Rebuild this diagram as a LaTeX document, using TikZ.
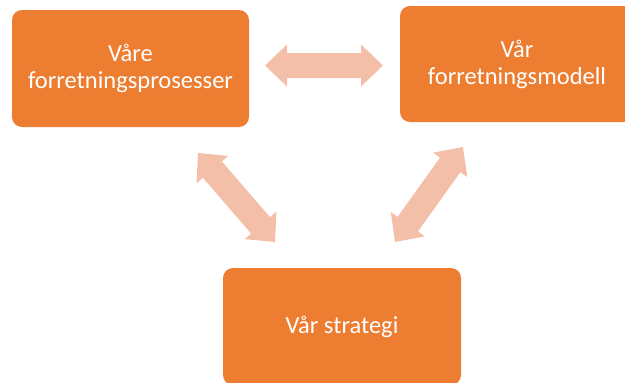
\documentclass[tikz,border=0pt]{standalone}
\usepackage{fontspec}
\setmainfont{Carlito}
\usetikzlibrary{calc}
\definecolor{boxorange}{HTML}{ED7D31}
\definecolor{linkpeach}{HTML}{F4BFA9}

% Double-headed block arrow between two named coordinates
\newcommand\twowayarrow[2]{%
  \coordinate (#1h) at ($(#1)!22pt!(#2)$);
  \coordinate (#2h) at ($(#2)!22pt!(#1)$);
  \fill[linkpeach]
    (#1) -- ($(#1h)!21pt!90:(#2)$) -- ($(#1h)!12.5pt!90:(#2)$)
         -- ($(#2h)!12.5pt!90:(#2)$) -- ($(#2h)!21pt!90:(#2)$)
    -- (#2) -- ($(#2h)!21pt!-90:(#2)$) -- ($(#2h)!12.5pt!-90:(#2)$)
         -- ($(#1h)!12.5pt!-90:(#2)$) -- ($(#1h)!21pt!-90:(#2)$)
    -- cycle;
}

\tikzset{
  orangebox/.style={fill=boxorange, rounded corners=10pt, text=white,
    align=center, inner sep=0pt, font=\fontsize{24.5}{27}\selectfont},
}

\begin{document}
\begin{tikzpicture}[x=1pt, y=-1pt]
  \useasboundingbox (0,0) rectangle (625,383);
  \clip (0,0) rectangle (625,383);

  % the three boxes
  \node[orangebox, minimum width=237pt, minimum height=117pt] (proc)  at (130.5,68.5) {Våre\\forretningsprosesser};
  \node[orangebox, minimum width=234pt, minimum height=116pt] (model) at (517,64)     {Vår\\forretningsmodell};
  \node[orangebox, minimum width=238pt, minimum height=117pt] (strat) at (342,326.5)  {Vår strategi};

  % arrow end points
  \coordinate (pmL) at (265,65.5);
  \coordinate (pmR) at (383,65.5);
  \coordinate (psT) at (198,153);
  \coordinate (psB) at (275,242);
  \coordinate (msT) at (463,147);
  \coordinate (msB) at (395,242);

  \twowayarrow{pmL}{pmR}
  \twowayarrow{psT}{psB}
  \twowayarrow{msT}{msB}
\end{tikzpicture}
\end{document}
